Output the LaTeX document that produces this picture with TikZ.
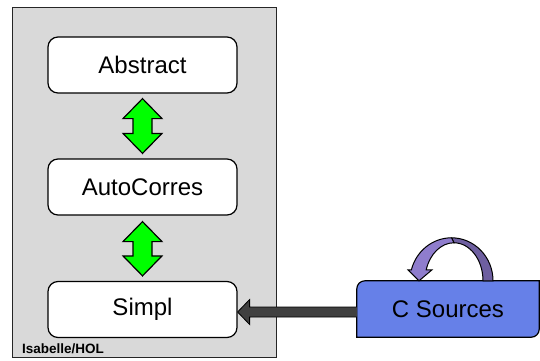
\documentclass[tikz,border=0pt]{standalone}
\usepackage{fontspec}
\setmainfont{Liberation Sans}
\usetikzlibrary{calc,backgrounds}
\definecolor{grayfill}{RGB}{217,217,217}
\definecolor{limegreen}{RGB}{0,255,0}
\definecolor{csblue}{RGB}{102,128,232}
\definecolor{darkarrow}{RGB}{64,64,64}
\definecolor{purplelight}{RGB}{143,125,205}
\definecolor{purpledark}{RGB}{110,95,160}
\begin{document}
\begin{tikzpicture}[x=1pt,y=1pt,
  container/.style={draw=black!85, fill=grayfill, line width=1pt, minimum width=264pt, minimum height=350pt, inner sep=0pt, anchor=south west},
  layerbox/.style={draw=black, fill=white, rounded corners=10pt, minimum width=189pt, minimum height=56pt, line width=1.2pt, inner sep=0pt, font=\fontsize{24}{28}\selectfont},
  cbox/.style={minimum width=182pt, minimum height=56pt, inner sep=0pt, font=\fontsize{24}{28}\selectfont},
  cboxshape/.style={draw=black, fill=csblue, line width=1.2pt},
  garrow/.style={draw=black, fill=limegreen, line width=1.2pt, line join=miter},
  darrow/.style={draw=black, fill=darkarrow, line width=0.8pt, line join=miter},
  parrowlight/.style={draw=black, fill=purplelight, line width=1pt, line join=miter},
  parrowdark/.style={draw=black, fill=purpledark, line width=1pt, line join=miter},
  tag/.style={anchor=base west, inner sep=0pt, font=\bfseries\fontsize{13.5}{16}\selectfont}
]
\useasboundingbox (0,0) rectangle (540,360);

\node[container] (isa) at (12,2) {};
\node[tag] (isalabel) at (22,7) {Isabelle/HOL};

\node[layerbox] (abs) at (142.5,295) {Abstract};
\node[layerbox] (ac) at (142.5,173) {AutoCorres};
\node[layerbox] (simpl) at (142.5,50.5) {Simpl};

% green double arrows
\draw[garrow] ($(abs.south)+(0,-5)$) -- ++(19.5,-20) -- ++(-10,0) -- ($(ac.north)+(9.5,25)$) -- ++(10,0)
  -- ($(ac.north)+(0,5)$) -- ++(-19.5,20) -- ++(10,0) -- ($(abs.south)+(-9.5,-25)$) -- ++(-10,0) -- cycle;
\draw[garrow] ($(ac.south)+(0,-6)$) -- ++(19.5,-20) -- ++(-10,0) -- ($(simpl.north)+(9.5,25)$) -- ++(10,0)
  -- ($(simpl.north)+(0,5)$) -- ++(-19.5,20) -- ++(10,0) -- ($(ac.south)+(-9.5,-26)$) -- ++(-10,0) -- cycle;

% C Sources box
\node[cbox] (cs) at (448,51) {C Sources};
\begin{pgfonlayer}{background}
\draw[cboxshape] (cs.south west) -- ($(cs.north west)+(0,-8)$) arc[start angle=180,end angle=90,radius=8pt]
  -- (cs.north east) -- ($(cs.south east)+(0,8)$) arc[start angle=0,end angle=-90,radius=8pt] -- cycle;
\end{pgfonlayer}

% dark arrow C Sources -> Simpl
\coordinate (ds) at ($(cs.west)+(0,-3)$);
\coordinate (dt) at ($(simpl.east)+(0,-2.5)$);
\draw[darrow] ($(ds)+(0,5)$) -- ($(dt)+(12,5)$) -- ($(dt)+(12,12.5)$) -- (dt) -- ($(dt)+(12,-12.5)$) -- ($(dt)+(12,-5)$) -- ($(ds)+(0,-5)$);

% curved self arrow on C Sources
\begin{scope}[shift={(cs.north)}]
\draw[parrowdark] (45,0) arc[start angle=0,end angle=90,x radius=41.5pt,y radius=43pt]
  -- (6,38) arc[start angle=90,end angle=0,x radius=29pt,y radius=38pt] -- cycle;
\draw[parrowlight] (3.5,43) arc[start angle=90,end angle=165.2,x radius=41.5pt,y radius=43pt]
  -- (-40,11) -- (-29,0) -- (-16,11) -- (-21.8,11)
  arc[start angle=163.2,end angle=90,x radius=29pt,y radius=38pt] -- cycle;
\end{scope}
\end{tikzpicture}
\end{document}
